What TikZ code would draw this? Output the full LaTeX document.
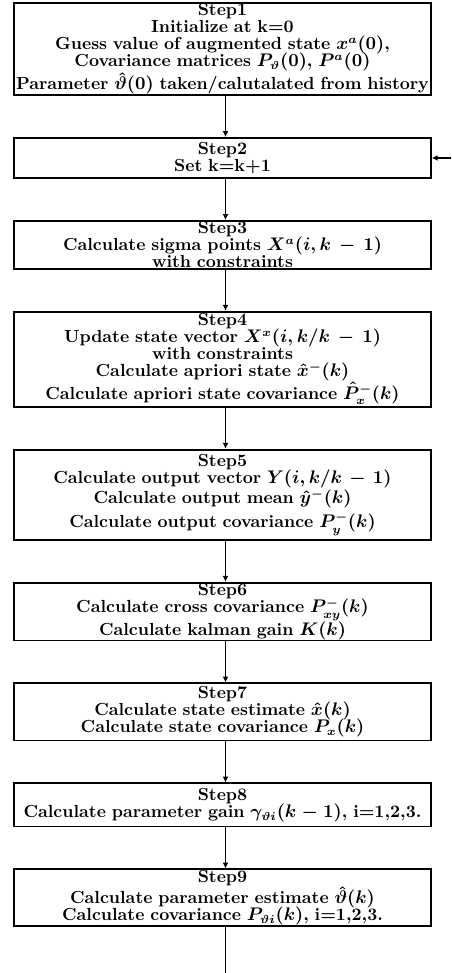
\documentclass[tikz,border=0pt]{standalone}
\usetikzlibrary{positioning,arrows.meta}
\newcommand{\stepfont}{\fontsize{10.5}{10.2}\selectfont\bfseries\boldmath\lineskiplimit=-2pt\lineskip=0.5pt\relax}
\begin{document}
\begin{tikzpicture}[x=0.6pt, y=0.6pt, node distance=24.6pt]
        \tikzstyle{stepbox}=[draw, line width=1.1pt, text width=250pt, align=center, inner xsep=0pt, inner ysep=0.5pt, font=\stepfont]
        \tikzstyle{flow}=[line width=1.1pt, -{Latex[length=3.5pt, width=3.5pt]}]
        \useasboundingbox (0,0) rectangle (451,-973);
        \coordinate (rim) at (451,-973);
        % Steps
        \node[stepbox, minimum height=55.3pt] (step1) at (222.5,-49) {Step1\\
                Initialize at k=0\\
                Guess value of augmented state $x^a(0)$,\\
                Covariance matrices $P_\vartheta(0)$, $P^a(0)$\\
                Parameter $\hat{\vartheta}(0)$ taken/calutalated from history};
        \node[stepbox, minimum height=24.1pt, below=of step1] (step2) {Step2\\ Set k=k+1};
        \node[stepbox, minimum height=28.3pt, below=of step2] (step3) {Step3\\
                Calculate sigma points $X^a(i,k-1)$\\
                with constraints};
        \node[stepbox, minimum height=57.1pt, below=of step3] (step4) {Step4\\
                Update state vector $X^x(i,k/k-1)$\\
                with constraints\\
                Calculate apriori state $\hat{x}^-(k)$\\
                Calculate apriori state covariance $\hat{P}_x^-(k)$};
        \node[stepbox, minimum height=54.1pt, below=of step4] (step5) {Step5\\
                Calculate output vector $Y(i,k/k-1)$\\[2pt]
                Calculate output mean $\hat{y}^-(k)$\\[4pt]
                Calculate output covariance $P_y^-(k)$};
        \node[stepbox, minimum height=33.1pt, below=of step5] (step6) {Step6\\
                Calculate cross covariance $P_{xy}^-(k)$\\
                Calculate kalman gain $K(k)$};
        \node[stepbox, minimum height=34.3pt, below=of step6] (step7) {Step7\\
                Calculate state estimate $\hat{x}(k)$\\
                Calculate state covariance $P_x(k)$};
        \node[stepbox, minimum height=25.9pt, below=of step7] (step8) {Step8\\
                Calculate parameter gain $\gamma_{\vartheta i}(k-1)$, i=1,2,3.};
        \node[stepbox, minimum height=31.3pt, below=of step8] (step9) {Step9\\
                Calculate parameter estimate $\hat{\vartheta}(k)$\\
                Calculate covariance $P_{\vartheta i}(k)$, i=1,2,3.};
        % Connectors
        \foreach \from/\to in {step1/step2, step2/step3, step3/step4, step4/step5,
                step5/step6, step6/step7, step7/step8, step8/step9}
                \draw[flow] ([xshift=1.8pt]\from.south) -- ([xshift=1.8pt]\to.north);
        \draw[flow] (rim |- step2.east) -- (step2.east);
        \draw[line width=1.1pt] ([xshift=1.8pt]step9.south) -- ([xshift=1.8pt]step9.south |- rim);
\end{tikzpicture}
\end{document}
